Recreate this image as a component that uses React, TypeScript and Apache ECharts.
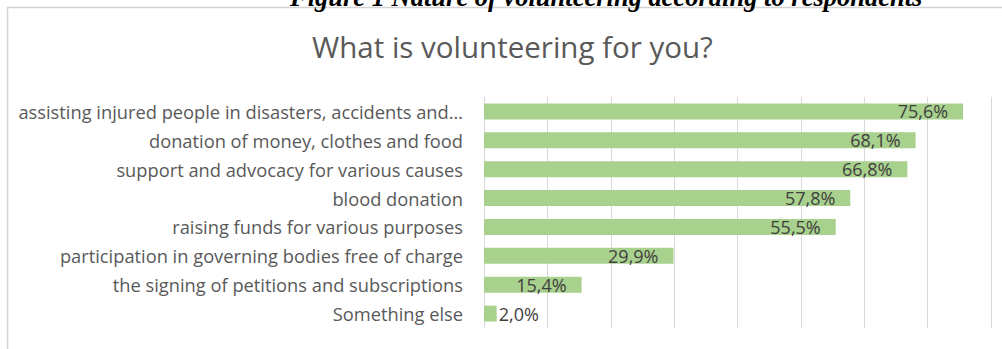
import React, { useEffect, useRef } from "react";
import * as echarts from "echarts";

const categories = [
  "assisting injured people in disasters, accidents and…",
  "donation of money, clothes and food",
  "support and advocacy for various causes",
  "blood donation",
  "raising funds for various purposes",
  "participation in governing bodies free of charge",
  "the signing of petitions and subscriptions",
  "Something else",
];
const values = [75.6, 68.1, 66.8, 57.8, 55.5, 29.9, 15.4, 2.0];
const titleText = "What is volunteering for you?";
const captionText = "Figure 1 Nature of volunteering according to respondents";

export default function App() {
  const ref = useRef<HTMLDivElement>(null);
  useEffect(() => {
    if (!ref.current) return;
    const chart = echarts.init(ref.current, null, { renderer: "svg" });
    const cats = [...categories].reverse();
    const vals = [...values].reverse();
    chart.setOption({
      animation: false,
      backgroundColor: "#ffffff",
      title: {
        text: titleText,
        left: 307,
        top: 26,
        textStyle: {
          fontFamily: "Open Sans",
          fontSize: 29.5,
          fontWeight: "normal",
          color: "#595959",
        },
      },
      graphic: [
        {
          type: "rect",
          shape: { x: 7.5, y: 7.5, width: 1100, height: 500 },
          style: { fill: "none", stroke: "#d4d4d4", lineWidth: 1.5 },
          silent: true,
        },
        {
          type: "text",
          x: 290,
          y: 10,
          style: {
            text: captionText,
            fontFamily: "Liberation Serif",
            fontSize: 26.5,
            fontWeight: "bold",
            fontStyle: "italic",
            fill: "#000000",
            textVerticalAlign: "bottom",
            textAlign: "left",
          },
        },
      ],
      grid: { left: 484, right: 11, top: 97, height: 231, containLabel: false },
      xAxis: {
        type: "value",
        min: 0,
        max: 80,
        interval: 10,
        axisLabel: { show: false },
        axisTick: { show: false },
        axisLine: { show: false },
        splitLine: { show: true, lineStyle: { color: "#d9d9d9", width: 1 } },
      },
      yAxis: {
        type: "category",
        data: cats,
        axisTick: { show: false },
        axisLine: { show: true, lineStyle: { color: "#d9d9d9", width: 1 } },
        axisLabel: {
          margin: 21,
          fontFamily: "Open Sans",
          fontSize: 18.3,
          color: "#595959",
        },
      },
      series: [
        {
          type: "bar",
          data: vals.map((v, i) =>
            i === 0
              ? { value: v, label: { position: "right", distance: 2 } }
              : v
          ),
          barCategoryGap: "45%",
          itemStyle: { color: "#a9d18e" },
          label: {
            show: true,
            position: "insideRight",
            distance: 15,
            formatter: (p: any) => p.value.toFixed(1).replace(".", ",") + "%",
            fontFamily: "Open Sans",
            fontSize: 18,
            color: "#3f3f3f",
          },
        },
      ],
    });
    return () => chart.dispose();
  }, []);
  return (
    <div
      ref={ref}
      style={{ position: "absolute", left: 0, top: 0, width: 1002, height: 349 }}
    />
  );
}
